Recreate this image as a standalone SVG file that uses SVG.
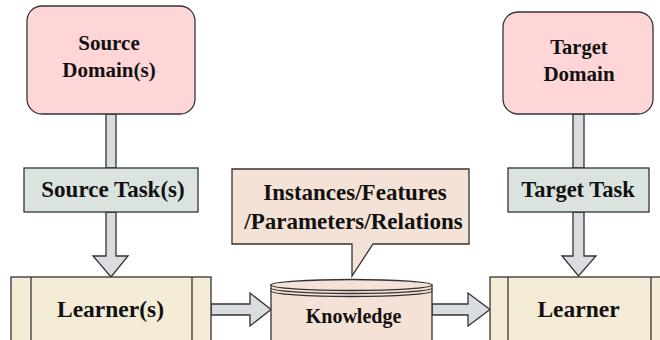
<svg xmlns="http://www.w3.org/2000/svg" width="660" height="340" viewBox="0 0 660 340">
<style>
.dom{fill:#FFD6D7;stroke:#333;stroke-width:1.3}
.task{fill:#DAE3DD;stroke:#333;stroke-width:1.3}
.lrn{fill:#F4ECD6;stroke:#333;stroke-width:1.3}
.kn{fill:#F5E2D6;stroke:#333;stroke-width:1.3}
.arr{fill:#D9DCE1;stroke:#333;stroke-width:1.3;stroke-linejoin:miter}
</style>
<rect width="660" height="340" fill="#fff"/>
<g id="connectors">
  <rect class="arr" x="106" y="114" width="10" height="54"/>
  <rect class="arr" x="573" y="114" width="11" height="54"/>
  <path class="arr" d="M106,212 L116,212 L116,256 L128,256 L111,277 L93,256 L106,256 Z"/>
  <path class="arr" d="M573,212 L584,212 L584,256 L596,256 L578.5,276 L562,256 L573,256 Z"/>
  <path class="arr" d="M211,304 L250,304 L250,293 L271,309.5 L250,326 L250,315 L211,315 Z"/>
  <path class="arr" d="M432,304 L468,304 L468,293 L490,309.5 L468,326 L468,315 L432,315 Z"/>
</g>
<g id="source-domain">
  <rect class="dom" x="27" y="6" width="168" height="108" rx="15"/>
  <text x="109" y="50" font-size="21" font-family="Liberation Serif" font-weight="bold" text-anchor="middle" fill="#111">Source</text>
  <text x="109" y="77" font-size="21" font-family="Liberation Serif" font-weight="bold" text-anchor="middle" fill="#111">Domain(s)</text>
</g>
<g id="target-domain">
  <rect class="dom" x="503" y="12" width="150" height="102" rx="15"/>
  <text x="579" y="54" font-size="20.5" font-family="Liberation Serif" font-weight="bold" text-anchor="middle" fill="#111">Target</text>
  <text x="579" y="81" font-size="21" font-family="Liberation Serif" font-weight="bold" text-anchor="middle" fill="#111">Domain</text>
</g>
<g id="source-task">
  <rect class="task" x="24" y="168" width="174" height="44"/>
  <text x="113" y="197" font-size="23" font-family="Liberation Serif" font-weight="bold" text-anchor="middle" fill="#111">Source Task(s)</text>
</g>
<g id="target-task">
  <rect class="task" x="508" y="168" width="141" height="44"/>
  <text x="578" y="197" font-size="22.5" font-family="Liberation Serif" font-weight="bold" text-anchor="middle" fill="#111">Target Task</text>
</g>
<g id="source-learner">
  <rect class="lrn" x="11" y="277" width="200" height="70"/>
  <line x1="31" y1="277" x2="31" y2="340" stroke="#333" stroke-width="1.3"/>
  <line x1="192" y1="277" x2="192" y2="340" stroke="#333" stroke-width="1.3"/>
  <text x="110.5" y="317" font-size="23.5" font-family="Liberation Serif" font-weight="bold" text-anchor="middle" fill="#111">Learner(s)</text>
</g>
<g id="target-learner">
  <rect class="lrn" x="490" y="277" width="185" height="70"/>
  <line x1="508" y1="277" x2="508" y2="340" stroke="#333" stroke-width="1.3"/>
  <line x1="651" y1="277" x2="651" y2="340" stroke="#333" stroke-width="1.3"/>
  <text x="578.5" y="317" font-size="23.5" font-family="Liberation Serif" font-weight="bold" text-anchor="middle" fill="#111">Learner</text>
</g>
<g id="knowledge">
  <path class="kn" d="M271,285 L271,345 L432,345 L432,285 Z"/>
  <ellipse class="kn" cx="351.5" cy="285" rx="80.5" ry="5.5"/>
  <path d="M271,288 A80.5,5.5 0 0 0 432,288" fill="none" stroke="#333" stroke-width="1.3"/>
  <path d="M271,291 A80.5,5.5 0 0 0 432,291" fill="none" stroke="#333" stroke-width="1.3"/>
  <text x="353.5" y="323" font-size="20" font-family="Liberation Serif" font-weight="bold" text-anchor="middle" fill="#111">Knowledge</text>
</g>
<g id="callout">
  <path class="kn" d="M232,169 L469,169 L469,244 L373,244 L352,276 L352,244 L232,244 Z"/>
  <text x="355" y="200" font-size="23" font-family="Liberation Serif" font-weight="bold" text-anchor="middle" fill="#111">Instances/Features</text>
  <text x="353.5" y="229" font-size="23" font-family="Liberation Serif" font-weight="bold" text-anchor="middle" fill="#111">/Parameters/Relations</text>
</g>
</svg>
